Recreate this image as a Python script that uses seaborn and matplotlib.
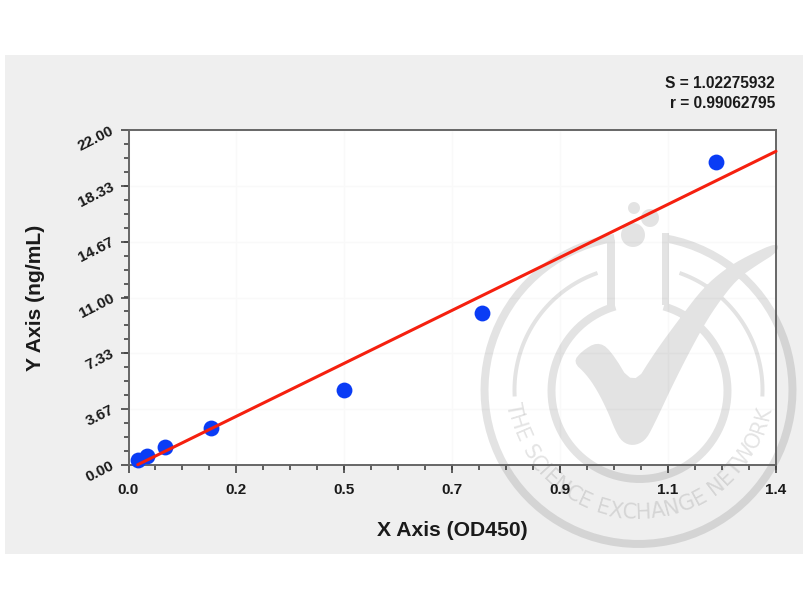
import numpy as np
import pandas as pd
import seaborn as sb
import matplotlib
matplotlib.use("Agg")
import matplotlib.pyplot as plt
from matplotlib.font_manager import FontProperties
from matplotlib.patches import Rectangle, PathPatch
from matplotlib.path import Path
from matplotlib.textpath import TextToPath
from matplotlib.ticker import FixedLocator, FixedFormatter, AutoMinorLocator
from matplotlib.transforms import Affine2D

# standard curve points
od_values = [0.021, 0.04, 0.079, 0.178, 0.466, 0.764, 1.27]
conc_values = [0.3125, 0.6, 1.2, 2.45, 4.95, 10, 19.9]

# fitted line ends
fit_x = [0.02, 1.4]
fit_y = [0.02, 20.6]

x_ticks = [0, 0.2333, 0.4667, 0.7, 0.9333, 1.1667, 1.4]
x_tick_labels = ['0.0', '0.2', '0.5', '0.7', '0.9', '1.1', '1.4']
y_ticks = [0, 3.667, 7.333, 11, 14.667, 18.333, 22]
y_tick_labels = ['0.00', '3.67', '7.33', '11.00', '14.67', '18.33', '22.00']

W, H = 810, 610

sb.set_style("white")
plt.rcParams['font.family'] = ['Liberation Sans', 'DejaVu Sans']

fig = plt.figure(figsize=(W / 100, H / 100), dpi=100, facecolor='white')
ax = fig.add_axes([128.5 / W, (H - 465) / H, 647.5 / W, 335 / H])
ax.set_facecolor('white')

# everything decorative is placed in picture pixels, y going down
pix = Affine2D().scale(1, -1).translate(0, H)

fig.add_artist(Rectangle((5, 55), 798, 499, transform=pix, color='#efefef', lw=0, zorder=-1))


def arc(cx, cy, r0, r1, a0, a1):
    a = np.radians(np.linspace(a0, a1, 90))
    outer = np.c_[cx + r1 * np.cos(a), cy + r1 * np.sin(a)]
    inner = np.c_[cx + r0 * np.cos(a), cy + r0 * np.sin(a)][::-1]
    return np.vstack([outer, inner])


def disc(cx, cy, r):
    a = np.radians(np.linspace(0, 360, 60))[:-1]
    return np.c_[cx + r * np.cos(a), cy + r * np.sin(a)]


def soften(pts, passes=2):
    # corner cutting, the tick has no hard edges in the stamp
    p = np.asarray(pts, dtype=float)
    for _ in range(passes):
        nxt = np.roll(p, -1, axis=0)
        p = np.column_stack([0.75 * p + 0.25 * nxt, 0.25 * p + 0.75 * nxt]).reshape(-1, 2)
    return p


def compound(polys):
    # same winding for all, so that overlaps do not get darker
    verts, codes = [], []
    for p in polys:
        p = np.asarray(p, dtype=float)
        area = np.sum(p[:, 0] * np.roll(p[:, 1], -1) - np.roll(p[:, 0], -1) * p[:, 1])
        if area < 0:
            p = p[::-1]
        verts.extend(p.tolist() + [p[0].tolist()])
        codes.extend([Path.MOVETO] + [Path.LINETO] * (len(p) - 1) + [Path.CLOSEPOLY])
    return Path(verts, codes)


check = [(573, 362), (582, 351), (597, 342), (610, 349), (633, 387),
         (655, 352), (680, 318), (703, 288), (725, 269), (747, 256), (778, 242), (778, 252),
         (757, 265), (737, 279), (716, 306), (700, 332), (676, 378), (653, 427), (645, 441),
         (633, 446), (622, 442), (615, 430), (608, 412), (597, 390), (586, 374)]
neck_l = [(607, 240), (615, 240), (615, 309), (607, 309)]
neck_r = [(662, 233), (669, 233), (669, 305), (662, 305)]
mark = [arc(638.5, 390, 150, 158, -81, 261),
        arc(639.5, 391, 84, 92, -74, 254),
        arc(638.5, 390, 122, 126, 177, 250.7),
        arc(638.5, 390, 122, 126, -70.7, 3),
        disc(633, 235, 12), disc(634, 208, 6), disc(650, 218, 9),
        soften(check), neck_l, neck_r]
ax.add_patch(PathPatch(compound(mark), transform=pix, facecolor='black', edgecolor='none',
                       alpha=0.11, clip_on=False, zorder=1.2))

stamp = "THE SCIENCE EXCHANGE NETWORK"
stamp_size = 15
measure = TextToPath()
prop = FontProperties(family='DejaVu Sans', size=stamp_size)
widths = np.array([measure.get_text_width_height_descent(ch, prop, False)[0] for ch in stamp])
mids = np.cumsum(widths) - widths / 2
mids = (mids - mids[0]) / (mids[-1] - mids[0])
for ch, m in zip(stamp, mids):
    a = 169 - m * (169 - 12.7)
    ax.text(638.5 + 128 * np.cos(np.radians(a)), 385 + 128 * np.sin(np.radians(a)), ch,
            transform=pix, rotation=90 - a, rotation_mode='anchor', ha='center', va='center',
            fontsize=stamp_size, family='DejaVu Sans', color='black', alpha=0.11,
            clip_on=False, zorder=1.2)

curve = pd.DataFrame({'od': od_values, 'conc': conc_values})
fit = pd.DataFrame({'od': fit_x, 'conc': fit_y})

sb.scatterplot(x='od', y='conc', data=curve, ax=ax, s=130, color='#0a3cf5', linewidth=0,
               clip_on=False, zorder=3)
sb.lineplot(x='od', y='conc', data=fit, ax=ax, color='#f5200f', linewidth=2.2, zorder=4,
            solid_capstyle='round', clip_on=False)

ax.set_xlim(0, 1.4)
ax.set_ylim(0, 22)
ax.xaxis.set_major_locator(FixedLocator(x_ticks))
ax.xaxis.set_major_formatter(FixedFormatter(x_tick_labels))
ax.yaxis.set_major_locator(FixedLocator(y_ticks))
ax.yaxis.set_major_formatter(FixedFormatter(y_tick_labels))
ax.xaxis.set_minor_locator(AutoMinorLocator(4))
ax.yaxis.set_minor_locator(AutoMinorLocator(4))

ax.grid(True, which='major', color='#f9f9f9', linewidth=1)
ax.set_axisbelow(True)
ax.tick_params(axis='both', which='major', length=6, width=1.2, color='#444444', bottom=True, left=True)
ax.tick_params(axis='both', which='minor', length=3.5, width=1.2, color='#444444', bottom=True, left=True)
ax.tick_params(axis='x', which='major', pad=7, labelsize=11, labelcolor='#1a1a1a')
ax.tick_params(axis='y', which='major', pad=5, labelsize=11, labelcolor='#1a1a1a')
for lab in ax.get_xticklabels():
    lab.set_fontweight('bold')
for lab in ax.get_yticklabels():
    lab.set_fontweight('bold')
    lab.set_rotation(27)
    lab.set_rotation_mode('anchor')
    lab.set_ha('right')
    lab.set_va('center')

for spine in ax.spines.values():
    spine.set_color('#666666')
    spine.set_linewidth(1.4)

ax.set_xlabel('')
ax.set_ylabel('')
ax.text(452, 530, 'X Axis (OD450)', transform=pix, ha='center', va='center', fontsize=15.2,
        fontweight='bold', color='#1a1a1a', clip_on=False)
ax.text(36, 298, 'Y Axis (ng/mL)', transform=pix, ha='center', va='center', rotation=90,
        fontsize=15.2, fontweight='bold', color='#1a1a1a', clip_on=False)
ax.text(775, 84, 'S = 1.02275932', transform=pix, ha='right', va='center', fontsize=11.2,
        fontweight='bold', color='#1a1a1a', clip_on=False)
ax.text(775, 104, 'r = 0.99062795', transform=pix, ha='right', va='center', fontsize=11.2,
        fontweight='bold', color='#1a1a1a', clip_on=False)

fig.savefig('out.png', dpi=100)
